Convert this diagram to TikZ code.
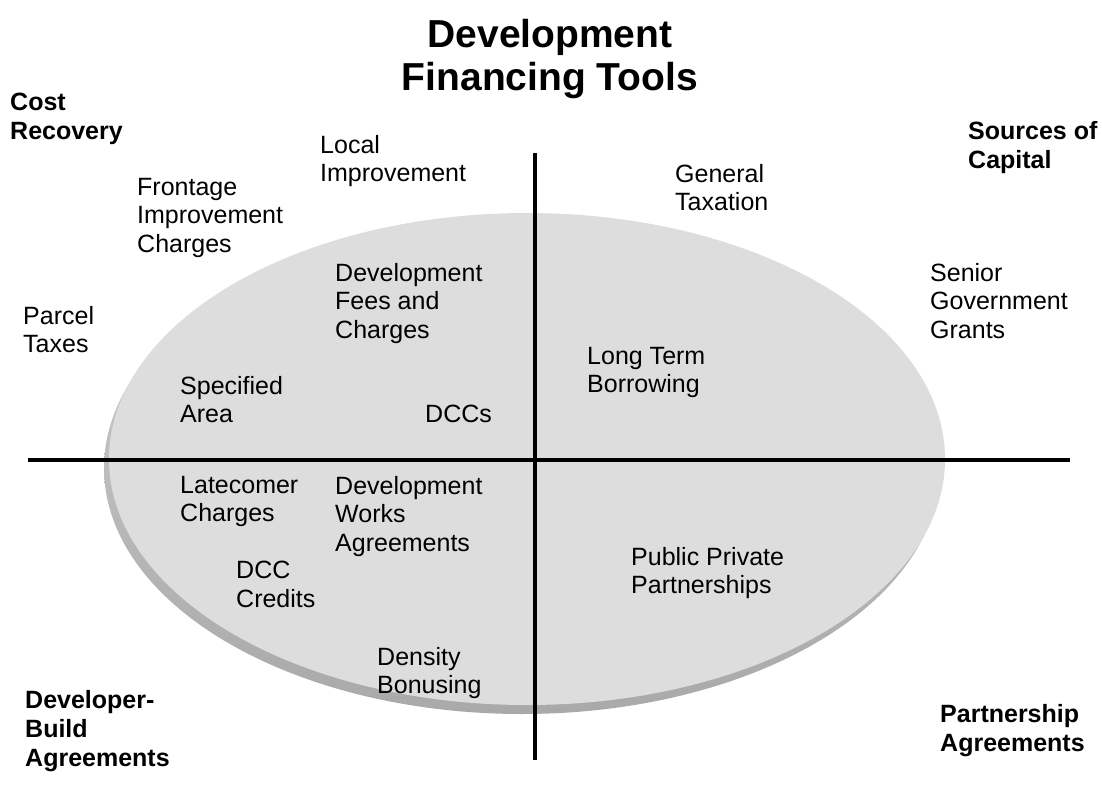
\documentclass[tikz,border=0pt]{standalone}
\usepackage{fontspec}
\setmainfont{Liberation Sans}
\usetikzlibrary{positioning}
\definecolor{disctop}{HTML}{DDDDDD}
\definecolor{discside}{HTML}{A9A9A9}
\definecolor{discedge}{HTML}{D0D0D0}

\begin{document}
\begin{tikzpicture}[x=1pt,y=-1pt,
		lbl/.style={anchor=north west,inner sep=0pt,align=left,font=\fontsize{25}{28.5}\selectfont},
		corner/.style={lbl,font=\fontsize{25}{29}\selectfont\bfseries},
		axis/.style={line width=4pt}]
		\useasboundingbox (0,0) rectangle (1102,787);
		% disc with its side
		\shade[top color=discedge,bottom color=discside] (522,468) ellipse [x radius=418pt,y radius=246pt];
		\fill[disctop] (527,459) ellipse [x radius=418pt,y radius=246pt];
		\coordinate (west) at (28,460);
		\coordinate (east) at (1070,460);
		\coordinate (north) at (535,153);
		\coordinate (south) at (535,760);
		\draw[axis] (west) -- (east);
		\draw[axis] (north) -- (south);
		\node[font=\fontsize{39}{43}\selectfont\bfseries,align=center,anchor=north,inner sep=0pt] (title) at (550,19) {Development\\Financing Tools};
		\node[corner] (cost) at (10,93) {Cost\\Recovery};
		\node[corner] (capital) at (968,121) {Sources of\\Capital};
		\node[corner] (devbuild) at (25,690) {Developer-\\Build\\Agreements};
		\node[corner] (partner) at (940,704) {Partnership\\Agreements};
		\node[lbl] (local) at (320,135) {Local\\Improvement};
		\node[lbl] (frontage) at (137,178) {Frontage\\Improvement\\Charges};
		\node[lbl] (general) at (675,164) {General\\Taxation};
		\node[lbl] (senior) at (930,263) {Senior\\Government\\Grants};
		\node[lbl] (parcel) at (23,306) {Parcel\\Taxes};
		\node[lbl] (devfees) at (335,263) {Development\\Fees and\\Charges};
		\node[lbl] (specified) at (180,376) {Specified\\Area};
		\node[lbl] (dccs) at (425,405) {DCCs};
		\node[lbl] (longterm) at (587,347) {Long Term\\Borrowing};
		\node[lbl] (latecomer) at (180,476) {Latecomer\\Charges};
		\node[lbl] (devworks) at (335,476) {Development\\Works\\Agreements};
		\node[lbl] (credits) at (236,561) {DCC\\Credits};
		\node[lbl] (ppp) at (631,547) {Public Private\\Partnerships};
		\node[lbl] (density) at (377,647) {Density\\Bonusing};
\end{tikzpicture}
\end{document}
